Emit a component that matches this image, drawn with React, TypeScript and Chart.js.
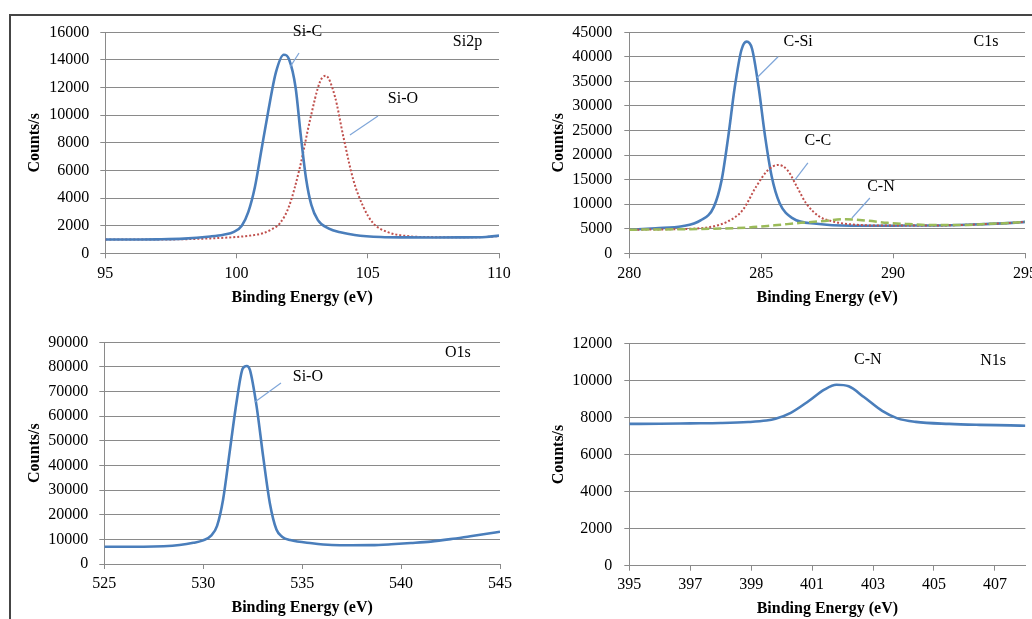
import React, { useEffect, useRef } from "react";
import { Chart, registerables } from "chart.js";

Chart.register(...registerables);

// ---------- Si2p ----------
const si2pSiCEnergy = [95, 96, 97, 98, 99, 99.5, 99.9, 100.2, 100.45, 100.7, 100.95, 101.2, 101.5, 101.8, 102.0, 102.25, 102.45, 102.65, 102.85, 103.1, 103.5, 104.0, 104.5, 105.5, 106.5, 107.5, 108.5, 109.5, 110];
const si2pSiCCounts = [1000, 1000, 1010, 1060, 1220, 1350, 1550, 2000, 3000, 4800, 7500, 10200, 13100, 14380, 14050, 12000, 8500, 5400, 3500, 2400, 1800, 1500, 1330, 1180, 1150, 1140, 1150, 1180, 1280];
const si2pSiOEnergy = [95, 97, 98, 99, 100, 100.5, 101.0, 101.3, 101.65, 102.0, 102.42, 102.8, 103.18, 103.4, 103.75, 104.07, 104.45, 104.83, 105.21, 105.72, 106.48, 107.5, 108.5, 109.5, 110];
const si2pSiOCounts = [1000, 1000, 1020, 1080, 1180, 1280, 1450, 1700, 2170, 3400, 6270, 9650, 12420, 12850, 11340, 8440, 5310, 3370, 2170, 1560, 1250, 1170, 1160, 1180, 1250];
const si2pXTicks = [95, 100, 105, 110];
const si2pYTicks = [0, 2000, 4000, 6000, 8000, 10000, 12000, 14000, 16000];

// ---------- C1s ----------
const c1sCSiEnergy = [280, 281, 282, 282.7, 283.2, 283.5, 283.75, 284.0, 284.25, 284.45, 284.65, 284.9, 285.15, 285.4, 285.7, 286.2, 287.1, 288.4, 289.5, 290.5, 291.5, 292.5, 293.5, 294.5, 295];
const c1sCSiCounts = [4800, 5100, 5500, 6700, 9400, 14900, 23700, 33900, 41400, 43100, 41700, 33900, 23700, 15600, 10200, 7100, 6000, 5600, 5600, 5650, 5650, 5750, 5950, 6200, 6400];
const c1sCCEnergy = [280, 281, 282, 282.7, 283.2, 283.7, 284.3, 284.8, 285.25, 285.65, 286.0, 286.35, 286.7, 287.2, 287.7, 288.4, 289.5, 290.5, 291.5, 292.5, 293.5, 294.5, 295];
const c1sCCCounts = [4800, 4850, 4950, 5100, 5500, 6400, 8800, 13500, 16900, 18000, 16900, 13600, 10200, 7500, 6500, 5900, 5650, 5650, 5650, 5750, 5950, 6200, 6400];
const c1sCNEnergy = [280, 282, 283.5, 284.5, 285.5, 286.5, 287.3, 288.2, 289.0, 289.8, 290.6, 291.5, 292.5, 293.5, 294.5, 295];
const c1sCNCounts = [4800, 4900, 5050, 5250, 5700, 6200, 6550, 6950, 6650, 6200, 5950, 5750, 5750, 5950, 6200, 6400];
const c1sXTicks = [280, 285, 290, 295];
const c1sYTicks = [0, 5000, 10000, 15000, 20000, 25000, 30000, 35000, 40000, 45000];

// ---------- O1s ----------
const o1sSiOEnergy = [525, 526, 527, 528, 528.8, 529.5, 530.0, 530.4, 530.7, 531.0, 531.35, 531.7, 532.0, 532.2, 532.36, 532.7, 533.03, 533.37, 533.7, 534.0, 534.4, 535.5, 536.5, 537.5, 538.5, 539.5, 540.5, 541.5, 542.5, 543.5, 544.5, 545];
const o1sSiOCounts = [7000, 7000, 7000, 7200, 7700, 8600, 9600, 11500, 15500, 26000, 46300, 66600, 79400, 80400, 78800, 63900, 43600, 24600, 14000, 11000, 9700, 8400, 7700, 7600, 7650, 8000, 8500, 9100, 10100, 11300, 12500, 13100];
const o1sXTicks = [525, 530, 535, 540, 545];
const o1sYTicks = [0, 10000, 20000, 30000, 40000, 50000, 60000, 70000, 80000, 90000];

// ---------- N1s ----------
const n1sCNEnergy = [395, 396, 397, 398, 398.9, 399.5, 399.8, 400.3, 400.9, 401.4, 401.8, 402.2, 402.7, 403.3, 403.8, 404.4, 405.5, 406.5, 407.5, 408];
const n1sCNCounts = [7650, 7660, 7680, 7700, 7750, 7830, 7930, 8250, 8900, 9500, 9760, 9680, 9100, 8350, 7950, 7760, 7650, 7600, 7570, 7550];
const n1sXTicks = [395, 397, 399, 401, 403, 405, 407];
const n1sYTicks = [0, 2000, 4000, 6000, 8000, 10000, 12000];

const FONT = '"Liberation Serif", "Times New Roman", serif';
const GRID = "#8a8a8a";
const TEXT = "#000000";
const BLUE = "#4A7EBB";
const RED = "#C0504D";
const GREEN = "#9BBB59";
const LEADER = "#7FA6D9";

type Series = { energy: number[]; counts: number[]; color: string; width: number; dash: number[]; order: number };
type Ann = { text: string; x: number; y: number };
type Leader = { x1: number; y1: number; x2: number; y2: number };
type Rect = { left: number; top: number; width: number; height: number };
type Area = { left: number; top: number; right: number; bottom: number };
type Spec = {
  canvas: Rect;
  area: Area;
  yTitleX: number;
  xTitleY: number;
  xTickPad: number;
  yTickPad: number;
  xMin: number; xMax: number; xTicks: number[];
  yMin: number; yMax: number; yTicks: number[];
  series: Series[];
  labels: Ann[];
  leaders: Leader[];
};

const panels: Spec[] = [
  {
    canvas: { left: 0, top: 0, width: 540, height: 310 },
    area: { left: 105.3, top: 32.3, right: 499, bottom: 253.3 },
    yTitleX: 34.5, xTitleY: 298, xTickPad: 6, yTickPad: 11,
    xMin: 95, xMax: 110, xTicks: si2pXTicks,
    yMin: 0, yMax: 16000, yTicks: si2pYTicks,
    series: [
      { energy: si2pSiCEnergy, counts: si2pSiCCounts, color: BLUE, width: 2.6, dash: [], order: 1 },
      { energy: si2pSiOEnergy, counts: si2pSiOCounts, color: RED, width: 2, dash: [2, 2], order: 2 },
    ],
    labels: [
      { text: "Si-C", x: 102.7, y: 16050 },
      { text: "Si-O", x: 106.34, y: 11170 },
      { text: "Si2p", x: 108.8, y: 15300 },
    ],
    leaders: [
      { x1: 102.38, y1: 14500, x2: 102.04, y2: 13480 },
      { x1: 105.39, y1: 9940, x2: 104.32, y2: 8570 },
    ],
  },
  {
    canvas: { left: 520, top: 0, width: 560, height: 310 },
    area: { left: 629.3, top: 32.3, right: 1025, bottom: 253.3 },
    yTitleX: 558.6, xTitleY: 298, xTickPad: 6, yTickPad: 12,
    xMin: 280, xMax: 295, xTicks: c1sXTicks,
    yMin: 0, yMax: 45000, yTicks: c1sYTicks,
    series: [
      { energy: c1sCSiEnergy, counts: c1sCSiCounts, color: BLUE, width: 2.6, dash: [], order: 3 },
      { energy: c1sCCEnergy, counts: c1sCCCounts, color: RED, width: 2, dash: [2, 2], order: 2 },
      { energy: c1sCNEnergy, counts: c1sCNCounts, color: GREEN, width: 2.5, dash: [8, 4], order: 1 },
    ],
    labels: [
      { text: "C-Si", x: 286.4, y: 43000 },
      { text: "C-C", x: 287.15, y: 22860 },
      { text: "C-N", x: 289.54, y: 13500 },
      { text: "C1s", x: 293.52, y: 43000 },
    ],
    leaders: [
      { x1: 285.64, y1: 40030, x2: 284.84, y2: 35750 },
      { x1: 286.77, y1: 18390, x2: 286.28, y2: 14930 },
      { x1: 289.12, y1: 11260, x2: 288.44, y2: 7190 },
    ],
  },
  {
    canvas: { left: 0, top: 310, width: 540, height: 320 },
    area: { left: 104.3, top: 342.3, right: 500, bottom: 564 },
    yTitleX: 34.5, xTitleY: 607.6, xTickPad: 5.5, yTickPad: 11,
    xMin: 525, xMax: 545, xTicks: o1sXTicks,
    yMin: 0, yMax: 90000, yTicks: o1sYTicks,
    series: [
      { energy: o1sSiOEnergy, counts: o1sSiOCounts, color: BLUE, width: 2.6, dash: [], order: 1 },
    ],
    labels: [
      { text: "Si-O", x: 535.29, y: 75900 },
      { text: "O1s", x: 542.87, y: 85700 },
    ],
    leaders: [
      { x1: 533.93, y1: 73490, x2: 532.61, y2: 65770 },
    ],
  },
  {
    canvas: { left: 520, top: 310, width: 560, height: 320 },
    area: { left: 629.3, top: 343.3, right: 1025.4, bottom: 565.7 },
    yTitleX: 558.6, xTitleY: 609, xTickPad: 4.7, yTickPad: 12,
    xMin: 395, xMax: 408, xTicks: n1sXTicks,
    yMin: 0, yMax: 12000, yTicks: n1sYTicks,
    series: [
      { energy: n1sCNEnergy, counts: n1sCNCounts, color: BLUE, width: 2.6, dash: [], order: 1 },
    ],
    labels: [
      { text: "C-N", x: 402.83, y: 11100 },
      { text: "N1s", x: 406.94, y: 11050 },
    ],
    leaders: [],
  },
];

function Panel({ spec }: { spec: Spec }) {
  const ref = useRef<HTMLCanvasElement | null>(null);
  const c = spec.canvas;
  useEffect(() => {
    const a = spec.area;
    const lh = 16 * 1.2;
    const padLeft = spec.yTitleX - c.left - lh / 2;
    const yW = a.left - c.left - padLeft;
    const padTop = a.top - c.top;
    const xH = spec.xTitleY + lh / 2 - a.bottom;
    const padBottom = c.top + c.height - a.bottom - xH;
    const padRight = c.left + c.width - a.right;

    const annPlugin = {
      id: "ann" + spec.xMin,
      afterDatasetsDraw(chart: any) {
        const ctx = chart.ctx;
        const xs = chart.scales.x;
        const ys = chart.scales.y;
        ctx.save();
        ctx.strokeStyle = LEADER;
        ctx.lineWidth = 1.2;
        for (const l of spec.leaders) {
          ctx.beginPath();
          ctx.moveTo(xs.getPixelForValue(l.x1), ys.getPixelForValue(l.y1));
          ctx.lineTo(xs.getPixelForValue(l.x2), ys.getPixelForValue(l.y2));
          ctx.stroke();
        }
        ctx.fillStyle = TEXT;
        ctx.font = `16px ${FONT}`;
        ctx.textAlign = "center";
        ctx.textBaseline = "middle";
        for (const t of spec.labels) {
          ctx.fillText(t.text, xs.getPixelForValue(t.x), ys.getPixelForValue(t.y));
        }
        ctx.restore();
      },
    };

    const chart = new Chart(ref.current as HTMLCanvasElement, {
      type: "line",
      data: {
        datasets: spec.series.map((s) => ({
          data: s.energy.map((e, i) => ({ x: e, y: s.counts[i] })),
          borderColor: s.color,
          backgroundColor: s.color,
          borderWidth: s.width,
          borderDash: s.dash,
          pointRadius: 0,
          cubicInterpolationMode: "monotone",
          fill: false,
          order: s.order,
        })),
      } as any,
      options: {
        animation: false,
        responsive: false,
        devicePixelRatio: 1,
        layout: { padding: { left: padLeft, right: padRight, top: padTop, bottom: padBottom } },
        plugins: { legend: { display: false }, tooltip: { enabled: false } },
        scales: {
          x: {
            type: "linear",
            min: spec.xMin,
            max: spec.xMax,
            afterBuildTicks: (s: any) => {
              s.ticks = spec.xTicks.map((v) => ({ value: v }));
            },
            afterFit: (s: any) => {
              s.height = xH;
            },
            grid: { drawOnChartArea: false, drawTicks: true, tickLength: 5, color: GRID, lineWidth: 1 },
            border: { display: true, color: GRID, width: 1 },
            ticks: {
              padding: spec.xTickPad,
              color: TEXT,
              font: { family: FONT, size: 16 },
              maxRotation: 0,
              autoSkip: false,
              callback: (v: any) => String(v),
            },
            title: {
              display: true,
              text: "Binding Energy (eV)",
              color: TEXT,
              font: { family: FONT, size: 16, weight: "bold" },
              padding: 0,
            },
          },
          y: {
            type: "linear",
            min: spec.yMin,
            max: spec.yMax,
            afterBuildTicks: (s: any) => {
              s.ticks = spec.yTicks.map((v) => ({ value: v }));
            },
            afterFit: (s: any) => {
              s.width = yW;
            },
            grid: { drawOnChartArea: true, drawTicks: true, tickLength: 5, color: GRID, lineWidth: 1 },
            border: { display: true, color: GRID, width: 1 },
            ticks: {
              padding: spec.yTickPad,
              color: TEXT,
              font: { family: FONT, size: 16 },
              autoSkip: false,
              callback: (v: any) => String(v),
            },
            title: {
              display: true,
              text: "Counts/s",
              color: TEXT,
              font: { family: FONT, size: 16, weight: "bold" },
              padding: 0,
            },
          },
        },
      } as any,
      plugins: [annPlugin],
    });
    return () => chart.destroy();
  }, [spec]);
  return (
    <canvas
      ref={ref}
      width={c.width}
      height={c.height}
      style={{ position: "absolute", left: c.left, top: c.top, width: c.width, height: c.height }}
    />
  );
}

export default function App() {
  return (
    <div
      style={{
        position: "fixed",
        left: 0,
        top: 0,
        width: 1032,
        height: 619,
        overflow: "hidden",
        background: "#ffffff",
      }}
    >
      <div
        style={{
          position: "absolute",
          left: 9,
          top: 14,
          width: 1032,
          height: 619,
          borderTop: "2px solid #454545",
          borderLeft: "2px solid #454545",
          boxSizing: "border-box",
        }}
      />
      {panels.map((p, i) => (
        <Panel key={i} spec={p} />
      ))}
    </div>
  );
}
